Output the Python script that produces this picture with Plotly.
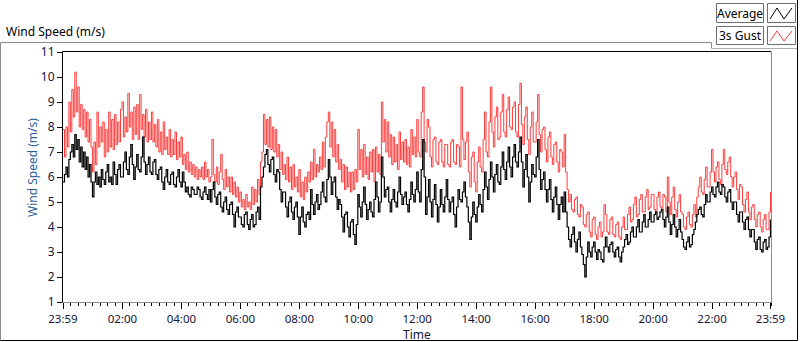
import plotly.graph_objects as go

# ---------------- data ----------------
minutes = list(range(0, 1441, 3))  # minutes after 23:59

gust = [
    7.9, 6.8, 8.0, 7.2, 9.0, 7.8, 9.5, 8.4, 10.2, 8.6,
    9.6, 8.0, 8.9, 7.9, 8.7, 7.6, 8.6, 7.4, 8.3, 7.2,
    6.2, 7.4, 6.5, 8.6, 7.2, 8.0, 7.4, 8.2, 6.8, 7.9,
    7.0, 8.6, 7.2, 8.3, 7.1, 8.5, 7.3, 8.2, 7.4, 8.7,
    9.0, 7.6, 8.4, 7.8, 9.35, 8.0, 8.6, 7.5, 8.8, 7.7,
    8.9, 7.5, 9.3, 7.9, 8.5, 7.6, 8.7, 7.4, 8.2, 7.5,
    8.6, 7.4, 8.1, 7.2, 8.3, 7.0, 7.8, 6.9, 8.2, 7.1,
    7.6, 6.9, 7.9, 6.8, 7.5, 6.9, 7.8, 6.7, 7.4, 6.8,
    7.6, 6.5, 6.9, 6.3, 7.0, 6.2, 6.6, 6.1, 6.5, 6.0,
    6.4, 5.9, 6.3, 6.0, 6.4, 5.9, 6.6, 6.0, 6.3, 5.8,
    6.0, 7.5, 6.1, 5.8, 6.4, 5.7, 6.2, 6.9, 5.9, 5.5,
    6.3, 5.6, 6.0, 5.4, 6.0, 5.3, 5.8, 5.2, 5.6, 5.0,
    5.4, 4.8, 5.1, 4.7, 5.3, 4.8, 5.0, 4.7, 5.6, 4.9,
    5.5, 5.0, 5.9, 5.3, 6.6, 7.0, 8.5, 7.3, 8.3, 7.2,
    8.4, 7.1, 8.0, 7.0, 7.9, 6.8, 7.3, 6.3, 7.0, 6.1,
    6.5, 5.9, 6.8, 5.8, 6.4, 5.5, 6.5, 5.6, 6.0, 5.4,
    6.3, 5.2, 5.8, 5.1, 6.0, 5.4, 6.2, 5.8, 6.6, 5.9,
    7.1, 6.0, 6.5, 6.2, 6.8, 6.3, 7.4, 6.4, 7.6, 8.2,
    8.6, 7.2, 8.2, 6.8, 7.9, 6.6, 7.3, 6.3, 6.7, 5.8,
    6.5, 5.5, 6.4, 5.6, 6.2, 5.4, 6.2, 5.5, 6.3, 5.8,
    7.9, 6.3, 7.1, 6.0, 7.3, 6.1, 6.8, 5.9, 7.0, 6.2,
    7.1, 5.8, 7.2, 6.2, 6.9, 6.1, 9.0, 7.4, 8.3, 7.0,
    8.2, 6.8, 7.7, 6.5, 7.6, 6.6, 7.3, 6.3, 7.8, 6.7,
    7.4, 6.6, 7.5, 6.5, 7.2, 6.4, 7.9, 6.9, 7.6, 6.8,
    8.3, 7.0, 6.8, 8.6, 9.6, 7.4, 7.0, 8.3, 8.0, 6.8,
    6.4, 7.5, 7.6, 6.6, 6.5, 7.4, 7.5, 6.6, 6.4, 7.3,
    7.3, 6.5, 6.4, 7.4, 7.5, 6.6, 6.5, 7.3, 7.2, 6.4,
    9.6, 7.5, 6.7, 7.4, 7.8, 6.2, 5.6, 6.8, 7.0, 5.8,
    5.4, 6.6, 7.2, 6.4, 6.2, 7.5, 8.6, 7.0, 6.8, 8.2,
    9.6, 7.8, 7.2, 8.4, 8.8, 7.5, 7.6, 8.6, 9.3, 7.8,
    7.6, 8.7, 9.2, 8.0, 7.9, 8.8, 9.0, 7.8, 7.6, 8.9,
    9.75, 8.1, 7.3, 8.4, 8.8, 7.5, 6.9, 8.0, 8.6, 7.4,
    7.4, 8.2, 9.3, 7.7, 7.0, 7.9, 8.0, 7.1, 6.6, 7.6,
    7.8, 6.8, 6.5, 7.3, 7.4, 6.6, 6.2, 7.1, 7.0, 6.4,
    7.7, 6.2, 5.5, 5.0, 5.3, 4.7, 4.6, 5.1, 5.2, 4.5,
    4.4, 4.9, 4.8, 4.1, 4.0, 4.5, 4.6, 3.8, 3.6, 4.3,
    4.4, 3.7, 3.5, 4.0, 4.2, 3.6, 3.8, 4.9, 4.5, 3.8,
    3.7, 4.3, 4.4, 3.7, 3.6, 4.1, 4.2, 3.6, 3.5, 4.0,
    4.4, 3.9, 3.9, 4.5, 4.8, 4.2, 4.3, 4.9, 5.2, 4.4,
    4.5, 5.1, 5.3, 4.6, 4.6, 5.2, 5.5, 4.7, 4.8, 5.3,
    5.3, 4.7, 4.6, 5.2, 5.4, 4.8, 4.7, 5.3, 5.2, 4.6,
    6.0, 5.0, 4.5, 5.2, 5.6, 4.7, 4.4, 5.0, 5.3, 4.6,
    4.5, 4.0, 3.9, 4.4, 4.6, 4.1, 4.0, 4.5, 4.9, 4.4,
    5.2, 5.6, 6.0, 5.4, 5.3, 5.9, 6.4, 5.6, 5.6, 6.2,
    7.1, 6.2, 5.8, 6.4, 6.6, 5.9, 5.7, 6.5, 7.1, 6.3,
    6.1, 6.6, 6.8, 6.0, 5.6, 6.0, 6.2, 5.5, 5.1, 5.7,
    5.6, 4.9, 4.6, 5.1, 5.4, 4.6, 4.3, 4.8, 4.9, 4.3,
    4.0, 4.5, 4.6, 4.0, 3.8, 4.3, 4.5, 3.9, 3.9, 4.6,
    5.4,
]

average = [
    5.8, 6.1, 6.4, 6.0, 6.7, 7.0, 7.3, 6.8, 7.7, 7.1,
    7.5, 6.6, 7.2, 6.4, 7.0, 6.3, 6.8, 6.0, 6.5, 5.8,
    5.2, 5.8, 6.2, 5.7, 6.0, 5.6, 6.3, 5.9, 5.7, 6.2,
    6.5, 5.8, 6.0, 5.7, 6.6, 6.1, 5.7, 6.3, 6.5, 6.0,
    6.0, 6.6, 7.0, 6.3, 6.1, 6.8, 7.3, 6.5, 5.9, 6.4,
    6.9, 6.3, 6.2, 6.8, 7.6, 6.6, 6.1, 6.5, 6.8, 6.2,
    6.1, 6.6, 6.7, 6.1, 5.9, 6.3, 6.4, 5.8, 5.5, 6.0,
    6.3, 5.8, 5.7, 6.1, 6.2, 5.7, 5.6, 6.0, 6.3, 5.8,
    5.6, 6.2, 5.8, 5.4, 5.6, 5.3, 5.2, 5.6, 5.5, 5.3,
    5.3, 5.6, 5.5, 5.2, 5.1, 5.4, 5.6, 5.3, 5.1, 5.5,
    5.0, 5.5, 5.8, 5.2, 4.9, 5.3, 5.4, 4.8, 4.6, 5.0,
    5.2, 4.7, 4.5, 4.9, 5.0, 4.5, 4.0, 4.6, 4.8, 4.4,
    4.4, 4.1, 4.0, 4.5, 4.6, 4.1, 3.9, 4.3, 4.5, 4.0,
    4.1, 4.6, 4.8, 4.3, 5.6, 6.0, 6.4, 6.9, 7.1, 6.5,
    6.2, 6.7, 6.8, 6.1, 5.8, 6.3, 6.2, 5.5, 5.0, 5.4,
    5.4, 4.8, 4.4, 5.0, 5.2, 4.6, 4.3, 4.8, 5.0, 4.4,
    3.7, 4.4, 4.8, 4.2, 4.0, 4.5, 4.6, 4.3, 5.5, 4.9,
    4.5, 5.0, 5.3, 4.7, 4.9, 5.4, 5.8, 5.2, 5.0, 5.9,
    6.7, 6.0, 5.3, 5.8, 6.0, 5.2, 4.7, 5.1, 4.9, 4.4,
    3.8, 4.5, 4.6, 4.0, 3.6, 4.2, 4.3, 3.7, 3.3, 4.1,
    5.3, 4.8, 4.4, 5.0, 5.6, 4.9, 4.3, 4.7, 5.0, 4.6,
    4.4, 5.1, 5.8, 5.2, 4.6, 5.0, 6.8, 6.0, 5.2, 5.5,
    5.6, 5.0, 4.6, 5.1, 5.5, 5.0, 4.8, 5.4, 6.0, 5.3,
    4.9, 5.2, 5.4, 4.9, 4.6, 5.1, 5.8, 5.3, 5.0, 5.5,
    6.2, 5.4, 5.0, 6.3, 7.5, 6.0, 4.5, 5.2, 5.9, 5.0,
    4.4, 5.1, 5.7, 4.9, 4.2, 4.8, 5.5, 4.9, 4.6, 5.2,
    5.9, 5.1, 4.6, 5.0, 5.2, 4.5, 4.0, 4.8, 5.5, 5.1,
    5.0, 5.4, 5.8, 5.2, 4.8, 4.2, 3.5, 4.4, 5.0, 4.5,
    4.2, 4.8, 5.3, 4.9, 4.6, 5.5, 6.2, 5.6, 5.1, 5.9,
    6.6, 6.0, 5.4, 6.1, 6.5, 5.8, 5.7, 6.4, 7.0, 6.3,
    5.9, 6.6, 7.2, 6.4, 6.0, 6.8, 7.3, 6.6, 6.4, 7.0,
    7.6, 6.6, 5.6, 6.3, 6.9, 6.0, 5.0, 5.8, 6.5, 6.1,
    6.0, 6.8, 7.5, 6.3, 5.5, 5.9, 6.2, 5.5, 5.0, 5.5,
    5.9, 5.1, 4.6, 5.2, 5.6, 4.9, 4.3, 4.9, 5.2, 4.6,
    5.4, 4.6, 4.0, 3.5, 3.2, 3.7, 4.0, 3.4, 3.0, 3.5,
    3.8, 3.2, 2.9, 2.5, 2.0, 2.8, 3.4, 3.0, 2.8, 3.2,
    3.4, 3.0, 2.7, 3.1, 3.0, 2.7, 2.6, 3.2, 3.6, 3.2,
    3.0, 3.3, 3.4, 3.0, 2.8, 3.1, 3.2, 2.8, 2.6, 3.0,
    3.2, 3.5, 3.7, 3.3, 3.4, 3.8, 4.0, 3.6, 3.6, 4.0,
    4.3, 3.8, 3.8, 4.2, 4.5, 4.0, 4.0, 4.3, 4.6, 4.2,
    4.2, 4.5, 4.6, 4.3, 4.4, 4.6, 4.7, 4.3, 4.0, 4.4,
    4.8, 4.2, 3.7, 4.1, 4.5, 4.0, 3.6, 3.9, 4.3, 3.8,
    3.5, 3.2, 3.1, 3.4, 3.6, 3.2, 3.3, 3.7, 3.9, 4.2,
    4.5, 4.7, 4.8, 4.5, 4.4, 4.9, 5.3, 5.0, 5.0, 5.4,
    5.6, 5.3, 5.2, 5.6, 5.8, 5.4, 5.3, 5.7, 5.6, 5.2,
    5.0, 5.4, 5.5, 5.0, 4.7, 5.0, 5.0, 4.5, 4.2, 4.6,
    4.6, 4.2, 3.9, 4.3, 4.4, 3.9, 3.6, 3.9, 3.9, 3.4,
    3.1, 3.5, 3.6, 3.1, 3.0, 3.4, 3.5, 3.1, 3.2, 3.6,
    4.3,
]

tick_minutes = [0, 121, 241, 361, 481, 601, 721, 841, 961, 1081, 1201, 1321, 1440]
tick_labels = ["23:59", "02:00", "04:00", "06:00", "08:00", "10:00", "12:00",
               "14:00", "16:00", "18:00", "20:00", "22:00", "23:59"]
y_ticks = [1, 2, 3, 4, 5, 6, 7, 8, 9, 10, 11]

# ---------------- layout helpers ----------------
W, H = 800, 342
L, R, T, B = 63, 771, 52, 302
FONT = "Noto Sans"
TXT = "#15153a"


def px(x):
    return (x - L) / (R - L)


def py(y):
    return (B - y) / (B - T)


fig = go.Figure()
fig.add_trace(go.Scatter(x=minutes, y=gust, mode="lines", name="3s Gust",
                         line=dict(color="#ff3b3b", width=1, shape="hv"), hoverinfo="skip"))
fig.add_trace(go.Scatter(x=minutes, y=average, mode="lines", name="Average",
                         line=dict(color="#000000", width=1.2, shape="hv"), hoverinfo="skip"))

shapes = []


def pline(x0, y0, x1, y1, color, width=1):
    shapes.append(dict(type="line", xref="paper", yref="paper",
                       x0=px(x0), y0=py(y0), x1=px(x1), y1=py(y1),
                       line=dict(color=color, width=width), layer="above"))


def prect(x0, y0, x1, y1, color, fill="white"):
    shapes.append(dict(type="rect", xref="paper", yref="paper",
                       x0=px(x0), y0=py(y0), x1=px(x1), y1=py(y1),
                       line=dict(color=color, width=1), fillcolor=fill, layer="above"))


# plot-area frame
pline(L - 0.5, T - 0.5, R, T - 0.5, "#000000")
pline(L - 0.5, T - 0.5, L - 0.5, B + 0.5, "#000000")
pline(R + 0.5, T - 0.5, R + 0.5, B + 0.5, "#8c8c8c")
pline(L - 0.5, B + 0.5, R + 0.5, B + 0.5, "#8c8c8c")

# outer chart frame
pline(0.5, 42.5, 711.5, 42.5, "#8c8c8c")
pline(0.5, 42.5, 0.5, 340.5, "#8c8c8c")
pline(711.5, 42.5, 711.5, 48.5, "#8c8c8c")
pline(711.5, 48.5, 797.5, 48.5, "#b0b0b0")
pline(0.5, 340.5, 797.5, 340.5, "#000000")
pline(797.5, 0, 797.5, 340.5, "#000000")

# legend boxes
prect(716.5, 3.5, 763.5, 22.5, "#6e6e6e")
prect(767.5, 3.5, 795.5, 22.5, "#6e6e6e")
prect(716.5, 26.5, 763.5, 44.5, "#6e6e6e")
prect(767.5, 26.5, 795.5, 44.5, "#6e6e6e")


def zig(y_top, y_bot, color):
    pts = [(770, y_bot), (777, y_top), (784, y_bot), (792, y_top)]
    path = "M " + " L ".join(f"{px(a)},{py(b)}" for a, b in pts)
    shapes.append(dict(type="path", xref="paper", yref="paper", path=path,
                       line=dict(color=color, width=1), layer="above"))


zig(8, 19, "#000000")
zig(31, 41, "#ff3b3b")

annotations = [
    dict(text="Wind Speed (m/s)", x=px(4), y=py(32), xref="paper", yref="paper",
         xanchor="left", yanchor="middle", showarrow=False,
         font=dict(family=FONT, size=12, color="#000000")),
    dict(text="Wind Speed (m/s)", x=px(32), y=py(168), xref="paper", yref="paper",
         xanchor="center", yanchor="middle", textangle=-90, showarrow=False,
         font=dict(family=FONT, size=12, color="#2f5f9a")),
    dict(text="Time", x=px(417), y=py(334), xref="paper", yref="paper",
         xanchor="center", yanchor="middle", showarrow=False,
         font=dict(family=FONT, size=12, color=TXT)),
    dict(text="Average", x=px(740), y=py(13), xref="paper", yref="paper",
         xanchor="center", yanchor="middle", showarrow=False,
         font=dict(family=FONT, size=12, color="#000000")),
    dict(text="3s Gust", x=px(740), y=py(35.5), xref="paper", yref="paper",
         xanchor="center", yanchor="middle", showarrow=False,
         font=dict(family=FONT, size=12, color="#000000")),
]

fig.update_layout(
    template="none",
    width=W, height=H,
    margin=dict(l=L, r=W - R, t=T, b=H - B, pad=0, autoexpand=False),
    paper_bgcolor="white", plot_bgcolor="white",
    showlegend=False,
    shapes=shapes, annotations=annotations,
    font=dict(family=FONT, size=12, color=TXT),
)
fig.update_xaxes(range=[0, 1441], tickmode="array", tickvals=tick_minutes, ticktext=tick_labels,
                 automargin=False,
                 ticks="outside", ticklen=6, tickcolor="#000000", tickwidth=1,
                 showgrid=False, zeroline=False, showline=False,
                 tickfont=dict(family=FONT, size=11.5, color=TXT),
                 minor=dict(ticks="outside", ticklen=3, tickcolor="#000000", tick0=1, dtick=15,
                            showgrid=False))
fig.update_yaxes(range=[1, 11], tickmode="array", tickvals=y_ticks, automargin=False,
                 ticks="outside", ticklen=5, tickcolor="#000000", tickwidth=1,
                 showgrid=False, zeroline=False, showline=False,
                 tickfont=dict(family=FONT, size=12, color=TXT))

fig.write_html("out.html", config={"displayModeBar": False, "staticPlot": True},
               post_script="document.body.style.margin='0';")
